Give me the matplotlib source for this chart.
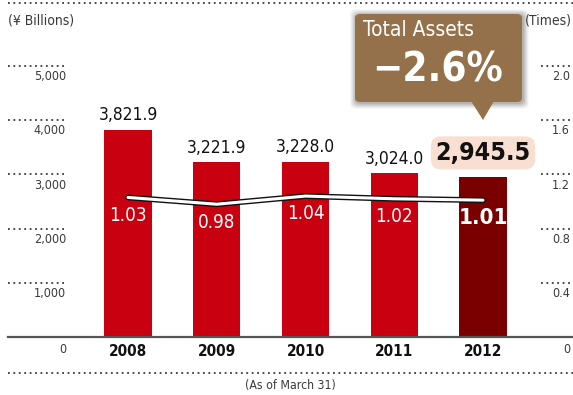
import numpy as np
import matplotlib.pyplot as plt
from matplotlib.patches import FancyBboxPatch, Polygon
import matplotlib.patheffects as pe

years = ['2008', '2009', '2010', '2011', '2012']
total_assets = [3821.9, 3221.9, 3228.0, 3024.0, 2945.5]
turnover = [1.03, 0.98, 1.04, 1.02, 1.01]
left_ticks = [1000, 2000, 3000, 4000, 5000]
right_ticks = [0.4, 0.8, 1.2, 1.6, 2.0]
change_text = '\u22122.6%'

plt.rcParams['font.family'] = ['DejaVu Sans']
plt.rcParams['font.stretch'] = 'condensed'

W, H = 573, 395
fig = plt.figure(figsize=(W / 100, H / 100), dpi=100)


def px(x, y):
    # pixel position measured from top-left -> figure fraction
    return x / W, 1 - y / H


# axes spanning the whole figure; limits chosen so bars land on their slots
x0, dx = 128.0, 88.75          # first bar centre and spacing in px
base, scale = 337.0, 0.0542    # baseline px, px per billion yen
ax = fig.add_axes([0, 0, 1, 1])
ax.set_xlim((0 - x0) / dx, (W - x0) / dx)
ax.set_ylim(-(H - base) / scale, base / scale)
ax.axis('off')

ax2 = ax.twinx()
ax2.set_ylim(np.array(ax.get_ylim()) * 2.0 / 5000)
ax2.axis('off')

red = '#c9000f'
dark = '#7a0000'
grey = '#3a3a3a'
dots = (0, (1, 2.0))
xs = np.arange(len(years))
colors = [red] * (len(years) - 1) + [dark]
ax.bar(xs, total_assets, width=0.53, color=colors, zorder=2)

# baseline
ax.axhline(0, xmin=8 / W, xmax=1, color='#555555', lw=1.6, zorder=3)

# dotted guide lines with tick labels on both sides
ytr = ax.get_yaxis_transform()
for v in left_ticks:
    ax.plot([8 / W, 66 / W], [v, v], transform=ytr, color=grey, lw=1.3,
            ls=dots, clip_on=False)
    ax.annotate(f'{v:,}', (66 / W, v), xycoords=ytr, xytext=(0, -3),
                textcoords='offset points', ha='right', va='top',
                fontsize=9, color=grey)
ax.annotate('0', (66 / W, 0), xycoords=ytr, xytext=(0, -4),
            textcoords='offset points', ha='right', va='top',
            fontsize=9, color=grey)

ytr2 = ax2.get_yaxis_transform()
for v in right_ticks:
    ax2.plot([541 / W, 570 / W], [v, v], transform=ytr2, color=grey, lw=1.3,
             ls=dots, clip_on=False)
    ax2.annotate(f'{v:.1f}', (570 / W, v), xycoords=ytr2, xytext=(0, -3),
                 textcoords='offset points', ha='right', va='top',
                 fontsize=9, color=grey)
ax2.annotate('0', (570 / W, 0), xycoords=ytr2, xytext=(0, -4),
             textcoords='offset points', ha='right', va='top',
             fontsize=9, color=grey)

# full-width dotted rules at top and bottom
for yy in (3, 373):
    fig.add_artist(plt.Line2D([8 / W, 1], [1 - yy / H] * 2, color=grey,
                              lw=1.3, ls=dots))

fig.text(*px(8, 20), '(\u00a5 Billions)', fontsize=10, color=grey,
         va='center', ha='left')
fig.text(*px(572, 20), '(Times)', fontsize=10, color=grey,
         va='center', ha='right')
fig.text(*px(290, 385), '(As of March 31)', fontsize=8.8, color=grey,
         va='center', ha='center')

# year labels
for i, y in enumerate(years):
    ax.annotate(y, (i, 0), xytext=(0, -5), textcoords='offset points',
                ha='center', va='top', fontsize=11, fontweight='bold',
                color='#111111')

# bar values
for i, v in enumerate(total_assets[:-1]):
    ax.annotate(f'{v:,.1f}', (i, v), xytext=(0, 4),
                textcoords='offset points', ha='center', va='bottom',
                fontsize=12.5, color='#111111')
ax.annotate(f'{total_assets[-1]:,.1f}', (xs[-1], total_assets[-1]),
            xytext=(0, 9), textcoords='offset points', ha='center',
            va='bottom', fontsize=18, fontweight='bold', color='#111111',
            bbox=dict(boxstyle='round,pad=0.18,rounding_size=0.4',
                      fc='#f8dfd2', ec='none'))

# asset turnover line
ax2.plot(xs, turnover, color='white', lw=2.2, solid_capstyle='round',
         zorder=4, path_effects=[pe.Stroke(linewidth=4.2, foreground='#111111'),
                                 pe.Normal()])
for i, v in enumerate(turnover):
    last = i == len(turnover) - 1
    ax2.annotate(f'{v:.2f}', (i, v), xytext=(0, -6),
                 textcoords='offset points', ha='center', va='top',
                 fontsize=16 if last else 13.5,
                 fontweight='bold' if last else 'normal', color='white',
                 zorder=5)

# callout box
bx0, by0, bx1, by1 = 355, 14, 522, 102
for k, a in zip(range(6, 0, -1), [0.03, 0.04, 0.05, 0.06, 0.07, 0.08]):
    fig.add_artist(FancyBboxPatch(
        px(bx0 - k + 1, by1 + k + 1), (bx1 - bx0 + 2 * k) / W,
        (by1 - by0 + 2 * k) / H,
        boxstyle='round,pad=0,rounding_size=0.012', fc='black', ec='none',
        alpha=a, transform=fig.transFigure))
fig.add_artist(FancyBboxPatch(
    px(bx0, by1), (bx1 - bx0) / W, (by1 - by0) / H,
    boxstyle='round,pad=0,rounding_size=0.01', fc='#94714b', ec='none',
    transform=fig.transFigure))
fig.add_artist(Polygon([px(471, 101), px(494, 101), px(483, 120)],
                       closed=True, fc='#94714b', ec='none',
                       transform=fig.transFigure))
fig.text(*px(363, 30), 'Total Assets', fontsize=15, color='white',
         va='center', ha='left')
fig.text(*px(438, 70), change_text, fontsize=29, fontweight='bold',
         color='white', va='center', ha='center')

fig.savefig('out.png', dpi=100)
